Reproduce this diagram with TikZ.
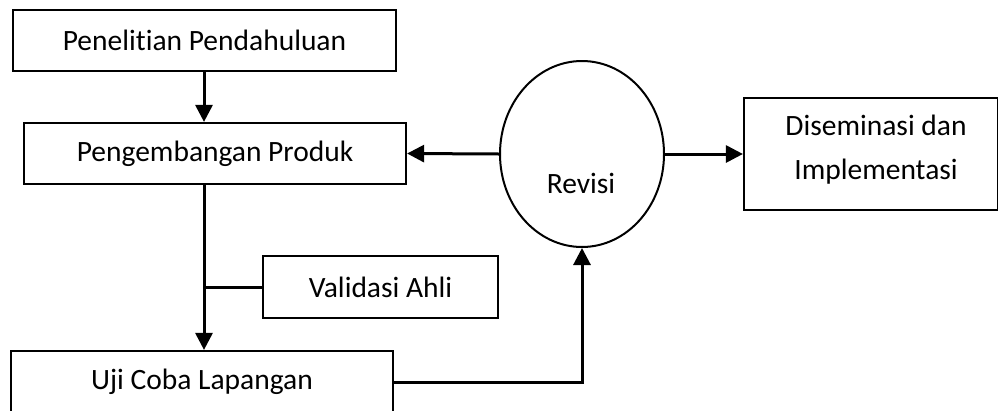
\documentclass[tikz,border=0pt]{standalone}
\usepackage{fontspec}
\setmainfont{Carlito}[Ligatures=NoCommon]
\usepackage{tikz}
\usetikzlibrary{calc}
\usetikzlibrary{arrows.meta,shapes.geometric}

\tikzset{
  kotak/.style={draw, line width=2.2pt, minimum width=#1, inner sep=0pt},
  panah/.style={line width=3pt, -{Triangle[length=17pt,width=17pt]}},
  garis/.style={line width=3pt}
}

\begin{document}
\begin{tikzpicture}[x=1pt, y=-1pt, font=\fontsize{29.5}{44}\selectfont]

\useasboundingbox (0,0) rectangle (998,410);

\node [kotak=383pt, minimum height=61pt] (pen) at (204.5, 40.5) {Penelitian Pendahuluan};
\node [kotak=382pt, minimum height=61pt] (peng) at (215, 153.5) {Pengembangan Produk};
\node [kotak=235pt, minimum height=62pt] (val) at (380.5, 287) {Validasi Ahli};
\node [kotak=382pt, minimum height=62pt] (uji) at (202, 382) {Uji Coba Lapangan};
\node [draw, ellipse, line width=2pt, minimum width=164pt, minimum height=186pt, inner sep=0pt] (rev) at (582, 154) {};
\node (revtxt) at (581, 183) {Revisi};
\node [kotak=254pt, minimum height=112pt] (dis) at (871, 154) {};
\node [align=center] (distxt) at (876, 150) {Diseminasi dan\\Implementasi};

\coordinate (tulang) at (204, 0);

\draw [panah] (pen.south -| tulang) -- (peng.north -| tulang);
\draw [panah] (peng.south -| tulang) -- (uji.north -| tulang);
\draw [garis] (val.west) -- (val.west -| tulang);
\draw [panah] (rev.west) -- (peng.east);
\draw [panah] (rev.east) -- (dis.west);
\draw [panah] (uji.east) -| (rev.south);

\end{tikzpicture}
\end{document}
